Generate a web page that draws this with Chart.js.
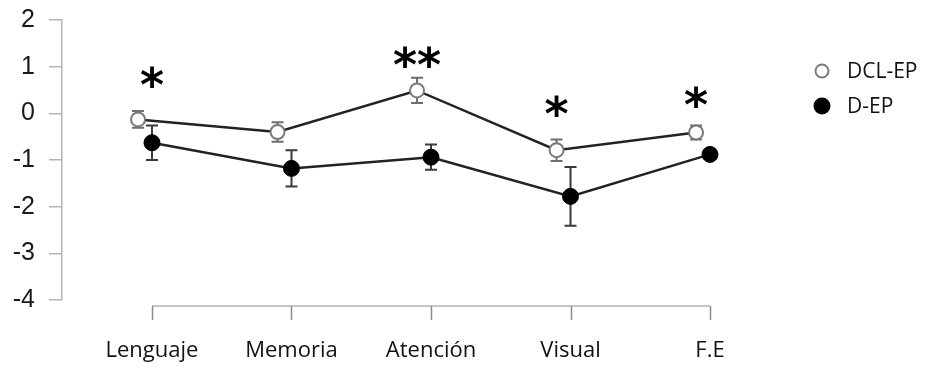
<!DOCTYPE html>
<html>
<head>
<meta charset="utf-8">
<script src="https://cdn.jsdelivr.net/npm/chart.js@4"></script>
<style>
  html, body { margin: 0; padding: 0; background: #fff; }
  #wrap { width: 925px; height: 367px; }
</style>
</head>
<body>
<div id="wrap"><canvas id="c" width="925" height="367"></canvas></div>
<script>
// Domains on the x axis
const categories = ['Lenguaje', 'Memoria', 'Atención', 'Visual', 'F.E'];

// Group means and error half-widths
const dclMeans  = [-0.13, -0.40, 0.49, -0.79, -0.41];
const dclErrors = [0.18, 0.21, 0.27, 0.23, 0.15];
const depMeans  = [-0.63, -1.18, -0.94, -1.78, -0.88];
const depErrors = [0.37, 0.39, 0.27, 0.63, 0.08];

// Y axis ticks
const yTicks = [2, 1, 0, -1, -2, -3, -4];

// Significance marks: category, symbol, series it sits over, height
const sigCats   = [0, 2, 3, 4];
const sigLabels = ['*', '**', '*', '*'];
const sigSeries = [1, 0, 0, 0];
const sigLevels = [0.77, 1.20, 0.15, 0.36];

const seriesNames = ['DCL-EP', 'D-EP'];
const DODGE = 0.1;   // horizontal shift of the open-circle series

const AXIS_GREY = '#b4b4b4';
const TICK_GREY = '#8c8c8c';
const LINE_COL = '#222222';

function toPoints(means, shift) {
  return means.map((v, i) => ({ x: i + shift, y: v }));
}

const errorSets = [dclErrors, depErrors];
const errorColours = ['#6e6e6e', '#3a3a3a'];

// Pin the plotting area so the axes land where the layout needs them
const AREA = { left: 62, top: 20, right: 740, bottom: 300 };
const pinArea = {
  id: 'pinArea',
  afterLayout(chart) {
    const a = chart.chartArea;
    a.left = AREA.left; a.top = AREA.top; a.right = AREA.right; a.bottom = AREA.bottom;
    a.width = AREA.right - AREA.left; a.height = AREA.bottom - AREA.top;
    const xs = chart.scales.x, ys = chart.scales.y;
    xs.left = AREA.left; xs.right = AREA.right; xs.width = a.width;
    xs.top = AREA.bottom; xs.bottom = AREA.bottom + 67; xs.height = 67;
    ys.top = AREA.top; ys.bottom = AREA.bottom; ys.height = a.height;
    ys.left = 0; ys.right = AREA.left; ys.width = AREA.left;
    xs.configure(); ys.configure();
    xs._labelItems = null; ys._labelItems = null;
    xs._gridLineItems = null; ys._gridLineItems = null;
  }
};

// Vertical error bars with caps, drawn beneath lines and markers
const errorBars = {
  id: 'errorBars',
  beforeDatasetsDraw(chart) {
    const ctx = chart.ctx;
    const ys = chart.scales.y;
    chart.data.datasets.forEach((ds, di) => {
      const meta = chart.getDatasetMeta(di);
      ctx.save();
      ctx.strokeStyle = errorColours[di];
      ctx.lineWidth = 2;
      meta.data.forEach((pt, i) => {
        const v = ds.data[i].y;
        const e = errorSets[di][i];
        const top = ys.getPixelForValue(v + e);
        const bot = ys.getPixelForValue(v - e);
        const x = pt.x;
        ctx.beginPath();
        ctx.moveTo(x, top); ctx.lineTo(x, bot);
        ctx.moveTo(x - 6, top); ctx.lineTo(x + 6, top);
        ctx.moveTo(x - 6, bot); ctx.lineTo(x + 6, bot);
        ctx.stroke();
      });
      ctx.restore();
    });
  }
};

// Bracket-style x axis line, tick marks, significance stars and legend
const decorations = {
  id: 'decorations',
  afterDraw(chart) {
    const ctx = chart.ctx;
    const xs = chart.scales.x;
    const ys = chart.scales.y;
    const area = chart.chartArea;

    // x axis
    const axisY = area.bottom + 6;
    ctx.save();
    ctx.strokeStyle = AXIS_GREY;
    ctx.lineWidth = 1.5;
    ctx.beginPath();
    ctx.moveTo(xs.getPixelForValue(0), axisY);
    ctx.lineTo(xs.getPixelForValue(categories.length - 1), axisY);
    ctx.stroke();
    ctx.strokeStyle = TICK_GREY;
    categories.forEach((c, i) => {
      const x = Math.round(xs.getPixelForValue(i)) + 0.5;
      ctx.beginPath();
      ctx.moveTo(x, axisY);
      ctx.lineTo(x, axisY + 14);
      ctx.stroke();
    });
    ctx.restore();

    // significance stars
    ctx.save();
    ctx.fillStyle = '#000';
    ctx.font = 'bold 46px "DejaVu Sans"';
    ctx.textAlign = 'center';
    ctx.textBaseline = 'alphabetic';
    sigCats.forEach((c, k) => {
      const meta = chart.getDatasetMeta(sigSeries[k]);
      const x = meta.data[c].x;
      const yc = ys.getPixelForValue(sigLevels[k]);
      const m = ctx.measureText(sigLabels[k]);
      const off = (m.actualBoundingBoxAscent - m.actualBoundingBoxDescent) / 2;
      ctx.fillText(sigLabels[k], x, yc + off);
    });
    ctx.restore();

    // legend
    ctx.save();
    const lx = 822, tx = 847;
    const rows = [71, 106];
    chart.data.datasets.forEach((ds, di) => {
      const y = rows[di];
      ctx.beginPath();
      ctx.arc(lx, y, di === 0 ? 6.5 : 7.5, 0, Math.PI * 2);
      ctx.fillStyle = ds.pointBackgroundColor;
      ctx.fill();
      ctx.lineWidth = 2;
      ctx.strokeStyle = ds.pointBorderColor;
      ctx.stroke();
      ctx.fillStyle = '#111';
      ctx.font = '21px "Open Sans"';
      ctx.textAlign = 'left';
      ctx.textBaseline = 'middle';
      ctx.fillText(ds.label, tx, y + 1);
    });
    ctx.restore();
  }
};

new Chart(document.getElementById('c'), {
  type: 'line',
  data: {
    datasets: [
      {
        label: seriesNames[0],
        data: toPoints(dclMeans, -DODGE),
        borderColor: LINE_COL,
        borderWidth: 2.5,
        pointRadius: 7,
        pointBackgroundColor: '#ffffff',
        pointBorderColor: '#7a7a7a',
        pointBorderWidth: 2,
        tension: 0
      },
      {
        label: seriesNames[1],
        data: toPoints(depMeans, 0),
        borderColor: LINE_COL,
        borderWidth: 2.5,
        pointRadius: 8,
        pointBackgroundColor: '#000000',
        pointBorderColor: '#000000',
        pointBorderWidth: 1,
        tension: 0
      }
    ]
  },
  options: {
    responsive: false,
    animation: false,
    events: [],
    layout: { padding: { top: 20, right: 185, bottom: 0, left: 0 } },
    plugins: { legend: { display: false }, tooltip: { enabled: false } },
    scales: {
      x: {
        type: 'linear',
        min: -0.645,
        max: 4.215,
        afterBuildTicks(scale) { scale.ticks = categories.map((c, i) => ({ value: i })); },
        afterFit(scale) { scale.height = 67; },
        grid: { display: false, drawTicks: false },
        border: { display: false },
        ticks: {
          padding: 38,
          color: '#111',
          font: { family: 'Open Sans', size: 22 },
          callback: (v) => categories[v] !== undefined ? categories[v] : ''
        }
      },
      y: {
        min: -4,
        max: 2,
        afterBuildTicks(scale) { scale.ticks = yTicks.map(v => ({ value: v })); },
        afterFit(scale) { scale.width = 62; },
        grid: { drawOnChartArea: false, drawTicks: true, tickLength: 13, color: AXIS_GREY, lineWidth: 1.5 },
        border: { display: true, color: AXIS_GREY, width: 1.5 },
        ticks: {
          padding: 14,
          color: '#1a1a1a',
          font: { family: 'Liberation Sans', size: 25 }
        }
      }
    }
  },
  plugins: [pinArea, errorBars, decorations]
});
</script>
</body>
</html>
